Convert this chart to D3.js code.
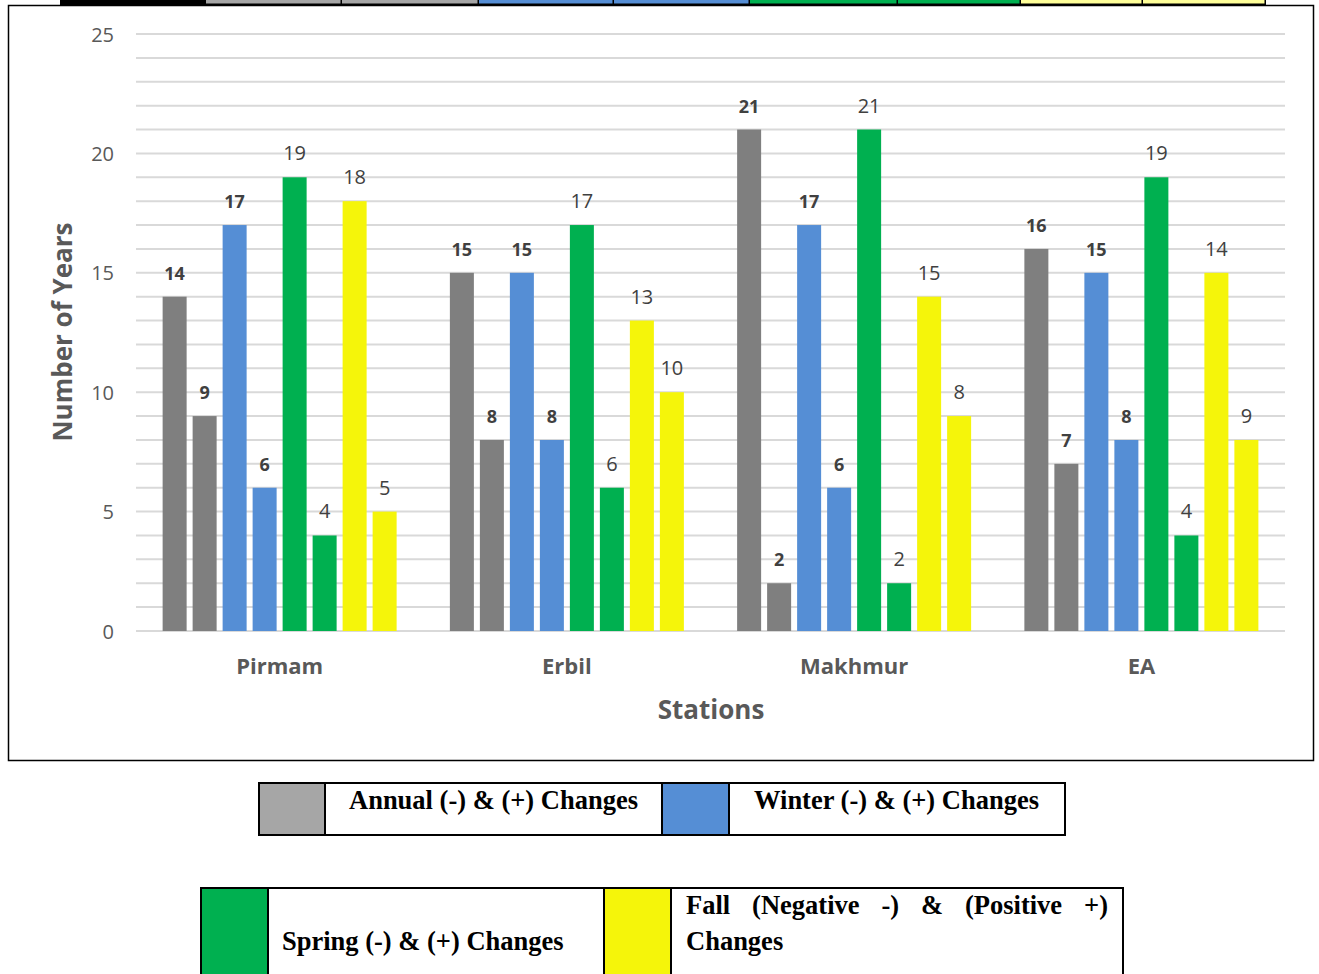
<!DOCTYPE html>
<html>
<head>
<meta charset="utf-8">
<script src="https://cdn.jsdelivr.net/npm/d3@7/dist/d3.min.js"></script>
<style>
  html, body { margin: 0; padding: 0; background: #fff; }
  svg { display: block; }
</style>
</head>
<body>
<svg id="chart" width="1319" height="974"></svg>
<script>
// ---------- DATA ----------
const stations = ["Pirmam", "Erbil", "Makhmur", "EA"];
const seriesKeys = ["annualNeg", "annualPos", "winterNeg", "winterPos", "springNeg", "springPos", "fallNeg", "fallPos"];
// bar heights per station (in seriesKeys order)
const pirmamValues  = [14, 9, 17, 6, 19, 4, 18, 5];
const erbilValues   = [15, 8, 15, 8, 17, 6, 13, 10];
const makhmurValues = [21, 2, 17, 6, 21, 2, 14, 9];
const eaValues      = [16, 7, 15, 8, 19, 4, 15, 8];
// data labels as printed on the chart
const pirmamLabels  = ["14", "9", "17", "6", "19", "4", "18", "5"];
const erbilLabels   = ["15", "8", "15", "8", "17", "6", "13", "10"];
const makhmurLabels = ["21", "2", "17", "6", "21", "2", "15", "8"];
const eaLabels      = ["16", "7", "15", "8", "19", "4", "14", "9"];
const yTicks = [0, 5, 10, 15, 20, 25];
const yTitle = "Number of Years";
const xTitle = "Stations";
const legendRow1 = ["Annual (-) & (+) Changes", "Winter (-) & (+) Changes"];
const legendRow2 = ["Spring (-) & (+) Changes", ["Fall", "(Negative", "-)", "&", "(Positive", "+)"], "Changes"];

// ---------- STYLE ----------
const barColors = ["#7f7f7f", "#7f7f7f", "#558ed5", "#558ed5", "#00b050", "#00b050", "#f5f50a", "#f5f50a"];
const labelBold = [true, true, true, true, false, false, false, false];
const textGray = "#595959";
const sans = "'Open Sans', Lato, sans-serif";
const serif = "'Liberation Serif', 'Times New Roman', serif";
const legendFontSize = 26.5;

const valuesBy = [pirmamValues, erbilValues, makhmurValues, eaValues];
const labelsBy = [pirmamLabels, erbilLabels, makhmurLabels, eaLabels];
const rows = stations.map((s, i) => ({
  station: s,
  bars: seriesKeys.map((k, j) => ({ key: k, value: valuesBy[i][j], label: labelsBy[i][j], color: barColors[j], bold: labelBold[j] }))
}));

const svg = d3.select("#chart");

// ---------- LAYOUT ----------
const plot = { left: 136, right: 1285, top: 34, bottom: 631 };

const x0 = d3.scaleBand().domain(stations).range([plot.left, plot.right]).paddingInner(0).paddingOuter(0);
const groupInner = 240;
const x1 = d3.scaleBand().domain(seriesKeys).range([0, groupInner]).paddingInner(0.2).paddingOuter(0.1);
const y = d3.scaleLinear().domain([0, 25]).range([plot.bottom, plot.top]);

// chart frame
svg.append("rect")
  .attr("x", 8.5).attr("y", 5.5).attr("width", 1305).attr("height", 755)
  .attr("fill", "none").attr("stroke", "#000").attr("stroke-width", 1.5);

// top strip (remnant table row)
const stripCells = [
  [60, 205, "#000"], [205, 341, "#a6a6a6"], [341, 478, "#a6a6a6"],
  [478, 613, "#558ed5"], [613, 749, "#558ed5"], [749, 897, "#00b050"],
  [897, 1020, "#00b050"], [1020, 1142, "#ffff99"], [1142, 1265, "#ffff99"]
];
const strip = svg.append("g");
stripCells.forEach(c => {
  strip.append("rect").attr("x", c[0]).attr("y", 0).attr("width", c[1] - c[0]).attr("height", 4).attr("fill", c[2]);
});
strip.append("rect").attr("x", 60).attr("y", 3.5).attr("width", 1205).attr("height", 2).attr("fill", "#000");
stripCells.forEach(c => {
  strip.append("rect").attr("x", c[1] - 0.5).attr("y", 0).attr("width", 1.5).attr("height", 5).attr("fill", "#000");
});

// gridlines at every integer
const gridVals = d3.range(0, 26);
svg.append("g").selectAll("line").data(gridVals).join("line")
  .attr("x1", plot.left).attr("x2", plot.right)
  .attr("y1", d => y(d)).attr("y2", d => y(d))
  .attr("stroke", "#d9d9d9").attr("stroke-width", 2);

// y axis
const yAxis = d3.axisLeft(y).tickValues(yTicks).tickSize(0).tickPadding(22);
const yg = svg.append("g").attr("transform", `translate(${plot.left},0)`).call(yAxis);
yg.select(".domain").remove();
yg.selectAll("text").attr("font-family", sans).attr("font-size", 20).attr("fill", textGray).attr("dy", "0.35em");

// x axis labels
const xAxis = d3.axisBottom(x0).tickSize(0).tickPadding(27);
const xg = svg.append("g").attr("transform", `translate(0,${plot.bottom})`).call(xAxis);
xg.select(".domain").remove();
xg.selectAll("text").attr("font-family", sans).attr("font-size", 22).attr("font-weight", "bold").attr("fill", textGray);

// bars
const groups = svg.append("g").selectAll("g").data(rows).join("g")
  .attr("transform", d => `translate(${x0(d.station) + x0.bandwidth() / 2 - groupInner / 2},0)`);

groups.selectAll("rect").data(d => d.bars).join("rect")
  .attr("x", d => x1(d.key))
  .attr("width", x1.bandwidth())
  .attr("y", d => y(d.value))
  .attr("height", d => y(0) - y(d.value))
  .attr("fill", d => d.color);

groups.selectAll("text").data(d => d.bars).join("text")
  .attr("x", d => x1(d.key) + x1.bandwidth() / 2)
  .attr("y", d => y(d.value) - 17)
  .attr("text-anchor", "middle")
  .attr("font-family", sans)
  .attr("font-size", d => d.bold ? 18 : 20)
  .attr("font-weight", d => d.bold ? "bold" : "normal")
  .attr("fill", "#404040")
  .text(d => d.label);

// axis titles
svg.append("text")
  .attr("transform", `translate(72,332) rotate(-90)`)
  .attr("text-anchor", "middle")
  .attr("font-family", sans).attr("font-size", 26).attr("font-weight", "bold").attr("fill", textGray)
  .text(yTitle);

svg.append("text")
  .attr("x", 711).attr("y", 719)
  .attr("text-anchor", "middle")
  .attr("font-family", sans).attr("font-size", 26).attr("font-weight", "bold").attr("fill", textGray)
  .text(xTitle);

// ---------- LEGEND TABLES ----------
function tableCell(g, x, yTop, w, h, fill) {
  g.append("rect").attr("x", x).attr("y", yTop).attr("width", w).attr("height", h)
    .attr("fill", fill).attr("stroke", "#000").attr("stroke-width", 2);
}
function legendText(g, x, yb, t) {
  return g.append("text").attr("x", x).attr("y", yb)
    .attr("font-family", serif).attr("font-size", legendFontSize).attr("font-weight", "bold").attr("fill", "#000")
    .text(t);
}
const lg1 = svg.append("g");
tableCell(lg1, 259, 783, 66, 52, "#a6a6a6");
tableCell(lg1, 325, 783, 337, 52, "#fff");
tableCell(lg1, 662, 783, 67, 52, "#558ed5");
tableCell(lg1, 729, 783, 336, 52, "#fff");
legendText(lg1, 349, 809, legendRow1[0]);
legendText(lg1, 754, 809, legendRow1[1]);

const lg2 = svg.append("g");
tableCell(lg2, 201, 888, 67, 100, "#00b050");
tableCell(lg2, 268, 888, 336, 100, "#fff");
tableCell(lg2, 604, 888, 67, 100, "#f5f50a");
tableCell(lg2, 671, 888, 452, 100, "#fff");
legendText(lg2, 282, 950, legendRow2[0]);
// justified first line of the Fall label
const fallWords = legendRow2[1];
const fallNodes = fallWords.map(w => legendText(lg2, 0, 914, w));
const widths = fallNodes.map(n => n.node().getComputedTextLength());
const lineStart = 686, lineEnd = 1108;
const gap = (lineEnd - lineStart - d3.sum(widths)) / (fallWords.length - 1);
let cx = lineStart;
fallNodes.forEach((n, i) => { n.attr("x", cx); cx += widths[i] + gap; });
legendText(lg2, 686, 950, legendRow2[2]);
</script>
</body>
</html>
